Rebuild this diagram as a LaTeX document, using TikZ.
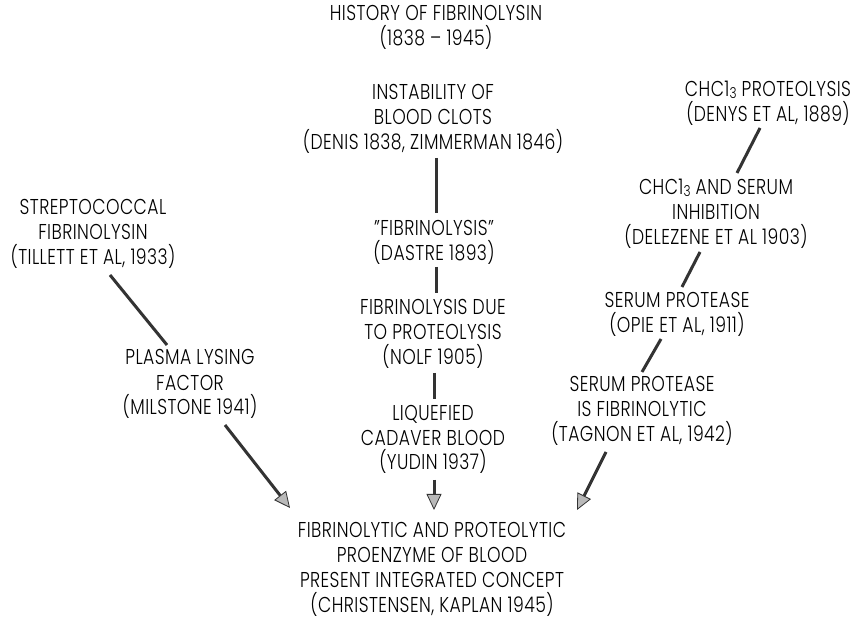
\documentclass[tikz,border=0pt]{standalone}
\usepackage{fontspec}
\setmainfont{Poppins}[UprightFont=* Light, FakeStretch=0.80, LetterSpace=2]
\usetikzlibrary{arrows.meta,calc}
\newcommand{\subthree}{\raisebox{-1.5pt}{\fontsize{15}{15}\selectfont 3}}
\tikzset{
  lbl/.style={align=center, inner sep=0pt, anchor=base, font=\fontsize{21.5}{25}\selectfont},
  link/.style={line width=3pt, draw=black!80},
  arr/.style={link, -{Triangle[length=16pt,width=15pt,fill=gray!55,line width=0.8pt]}}
}
\begin{document}
\begin{tikzpicture}[x=1pt,y=-1pt]
\path[use as bounding box, fill=white] (0,0) rectangle (855,620);
% nodes are placed at the baseline of their last line
\node[lbl] (title) at (436,46) {HISTORY OF FIBRINOLYSIN\\(1838 – 1945)};
\node[lbl] (instab) at (433,150) {INSTABILITY OF\\BLOOD CLOTS\\(DENIS 1838, ZIMMERMAN 1846)};
\node[lbl] (fibr) at (434,261) {”FIBRINOLYSIS”\\(DASTRE 1893)};
\node[lbl] (nolf) at (433,365) {FIBRINOLYSIS DUE\\TO PROTEOLYSIS\\(NOLF 1905)};
\node[lbl] (yudin) at (433,470) {LIQUEFIED\\CADAVER BLOOD\\(YUDIN 1937)};
\node[lbl] (concept) at (432,612) {FIBRINOLYTIC AND PROTEOLYTIC\\PROENZYME OF BLOOD\\PRESENT INTEGRATED CONCEPT\\(CHRISTENSEN, KAPLAN 1945)};
\node[lbl] (strep) at (93,265) {STREPTOCOCCAL\\FIBRINOLYSIN\\(TILLETT ET AL, 1933)};
\node[lbl] (plasma) at (190,415) {PLASMA LYSING\\FACTOR\\(MILSTONE 1941)};
\node[lbl] (denys) at (768,122) {CHC1\subthree{} PROTEOLYSIS\\(DENYS ET AL, 1889)};
\node[lbl] (delez) at (716,245) {CHC1\subthree{} AND SERUM\\INHIBITION\\(DELEZENE ET AL 1903)};
\node[lbl] (opie) at (677,333) {SERUM PROTEASE\\(OPIE ET AL, 1911)};
\node[lbl] (tagnon) at (642,442) {SERUM PROTEASE\\IS FIBRINOLYTIC\\(TAGNON ET AL, 1942)};

\draw[link] ($(instab.base)+(3,8)$) -- ($(fibr.base)+(2,-48)$);
\draw[link] ($(fibr.base)+(2,6)$) -- ($(nolf.base)+(3,-72)$);
\draw[link] ($(nolf.base)+(1,8)$) -- ($(yudin.base)+(1,-71)$);
\draw[arr] ($(yudin.base)+(1,10)$) -- ($(concept.base)+(2,-102)$);
\draw[link] ($(strep.base)+(17,10)$) -- ($(plasma.base)+(-23,-70)$);
\draw[arr] ($(plasma.base)+(35,10)$) -- ($(concept.base)+(-142,-104)$);
\draw[link] ($(denys.base)+(-8,6)$) -- ($(delez.base)+(21,-72)$);
\draw[link] ($(delez.base)+(-16,7)$) -- ($(opie.base)+(5,-46)$);
\draw[link] ($(opie.base)+(-16,6)$) -- ($(tagnon.base)+(0,-70)$);
\draw[arr] ($(tagnon.base)+(-36,10)$) -- ($(concept.base)+(145,-102)$);
\end{tikzpicture}
\end{document}
